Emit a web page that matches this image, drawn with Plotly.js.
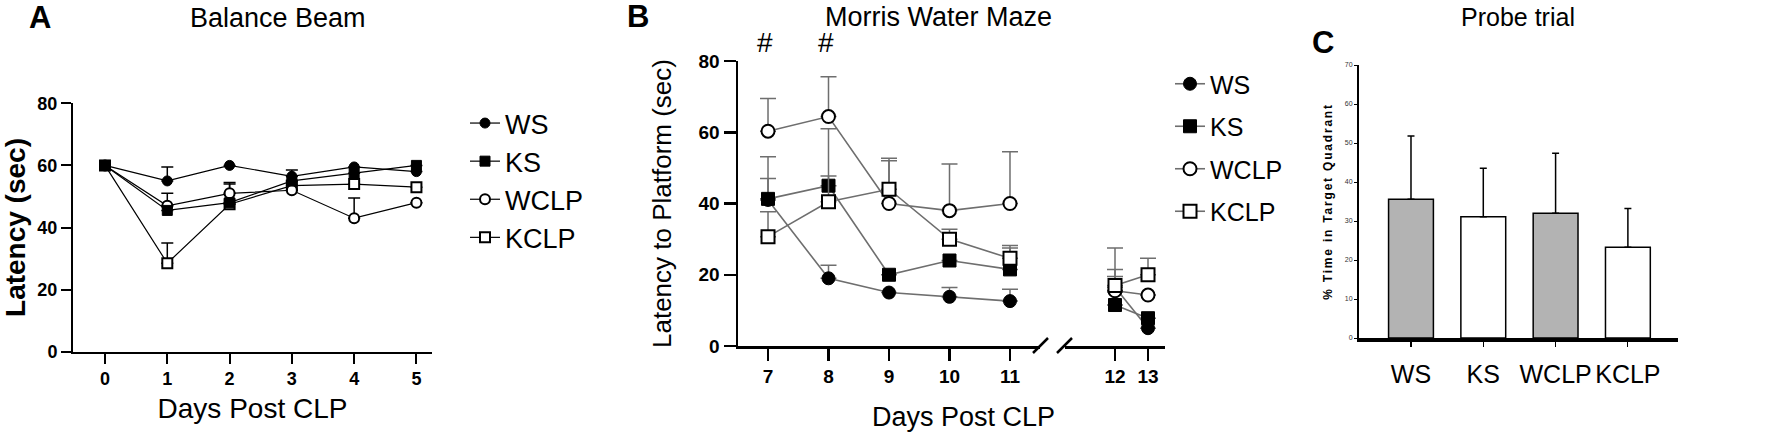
<!DOCTYPE html>
<html>
<head>
<meta charset="utf-8">
<script src="https://cdn.plot.ly/plotly-3.0.1.min.js"></script>
<style>
  html, body { margin: 0; padding: 0; background: #fff; }
  #chart { width: 1770px; height: 437px; }
  .y3title { letter-spacing: 1.8px; }
</style>
</head>
<body>
<div id="chart"></div>
<script>
// ---------- Panel A: Balance Beam ----------
const bbDays = [0, 1, 2, 3, 4, 5];
const bbWS = [60, 55, 60, 56.5, 59.5, 58];
const bbWSerr = [0, 4.5, 0, 2, 0, 0];
const bbKS = [60, 45.5, 48, 55, 57.5, 60];
const bbKSerr = [0, 0, 0, 0, 0, 0];
const bbWCLP = [60, 47, 51, 52, 43, 48];
const bbWCLPerr = [0, 4, 3.5, 0, 6.5, 0];
const bbKCLP = [60, 28.5, 47.5, 53.5, 54, 53];
const bbKCLPerr = [0, 6.5, 6.5, 0, 0, 0];

// ---------- Panel B: Morris Water Maze ----------
const mwDays1 = [7, 8, 9, 10, 11];
const mwDays2 = [12, 13];
const mwWS1 = [41, 19, 15, 13.8, 12.6];
const mwWS2 = [16.5, 5];
const mwWSerr1 = [6, 3.7, 0, 2.6, 3.3];
const mwWSerr2 = [3, 0];
const mwKS1 = [41.3, 45, 20, 24, 21.5];
const mwKS2 = [11.5, 7.8];
const mwKSerr1 = [11.8, 16, 0, 0, 6];
const mwKSerr2 = [0, 0];
const mwWCLP1 = [60.3, 64.4, 40, 38, 40];
const mwWCLP2 = [15.5, 14.3];
const mwWCLPerr1 = [9.2, 11.2, 12, 13.1, 14.5];
const mwWCLPerr2 = [12, 0];
const mwKCLP1 = [30.7, 40.5, 44, 30, 24.6];
const mwKCLP2 = [17, 20];
const mwKCLPerr1 = [7, 7.2, 8.7, 2.8, 3.6];
const mwKCLPerr2 = [4.5, 4.6];

// ---------- Panel C: Probe trial ----------
const probeGroups = ['WS', 'KS', 'WCLP', 'KCLP'];
const probeValues = [35.6, 31.1, 32, 23.3];
const probeErr = [16.2, 12.4, 15.4, 9.9];

const FONT = 'Liberation Sans, Arial, sans-serif';
const W = 1770, H = 437;
const px = v => v / W;
const py = v => (H - v) / H;
const zeros = a => a.map(() => 0);

const styles = {
  WS:   { symbol: 'circle', fill: 'black', rank: 1 },
  KS:   { symbol: 'square', fill: 'black', rank: 2 },
  WCLP: { symbol: 'circle', fill: 'white', rank: 3 },
  KCLP: { symbol: 'square', fill: 'white', rank: 4 }
};

function series(name, x, y, err, xa, ya, opts) {
  const st = styles[name];
  return {
    type: 'scatter', mode: 'lines+markers', name: name,
    x: x, y: y, xaxis: xa, yaxis: ya,
    legend: opts.legend, legendgroup: opts.group, showlegend: opts.showlegend,
    legendrank: st.rank,
    line: { color: opts.lineColor, width: opts.lineWidth },
    marker: { symbol: st.symbol, size: opts.size, color: st.fill,
              line: { color: 'black', width: st.fill === 'white' ? 2 : 1 } },
    error_y: { type: 'data', symmetric: false, array: err, arrayminus: zeros(err),
               width: opts.capW, thickness: 1.5, color: opts.lineColor },
    hoverinfo: 'x+y+name'
  };
}

const optA = { legend: 'legend', showlegend: true, lineColor: 'black', lineWidth: 1.2, size: 10, capW: 6 };
const optB = { legend: 'legend2', lineColor: '#6e6e6e', lineWidth: 1.6, size: 13, capW: 8 };

const traces = [
  series('KCLP', bbDays, bbKCLP, bbKCLPerr, 'x', 'y', Object.assign({ group: 'aKCLP' }, optA)),
  series('WCLP', bbDays, bbWCLP, bbWCLPerr, 'x', 'y', Object.assign({ group: 'aWCLP' }, optA)),
  series('WS', bbDays, bbWS, bbWSerr, 'x', 'y', Object.assign({ group: 'aWS' }, optA)),
  series('KS', bbDays, bbKS, bbKSerr, 'x', 'y', Object.assign({ group: 'aKS' }, optA)),

  series('WS', mwDays1, mwWS1, mwWSerr1, 'x2', 'y2', Object.assign({ group: 'bWS', showlegend: true }, optB)),
  series('KS', mwDays1, mwKS1, mwKSerr1, 'x2', 'y2', Object.assign({ group: 'bKS', showlegend: true }, optB)),
  series('WCLP', mwDays1, mwWCLP1, mwWCLPerr1, 'x2', 'y2', Object.assign({ group: 'bWCLP', showlegend: true }, optB)),
  series('KCLP', mwDays1, mwKCLP1, mwKCLPerr1, 'x2', 'y2', Object.assign({ group: 'bKCLP', showlegend: true }, optB)),
  series('WS', mwDays2, mwWS2, mwWSerr2, 'x3', 'y2', Object.assign({ group: 'bWS', showlegend: false }, optB)),
  series('KS', mwDays2, mwKS2, mwKSerr2, 'x3', 'y2', Object.assign({ group: 'bKS', showlegend: false }, optB)),
  series('WCLP', mwDays2, mwWCLP2, mwWCLPerr2, 'x3', 'y2', Object.assign({ group: 'bWCLP', showlegend: false }, optB)),
  series('KCLP', mwDays2, mwKCLP2, mwKCLPerr2, 'x3', 'y2', Object.assign({ group: 'bKCLP', showlegend: false }, optB)),

  {
    type: 'bar', x: probeGroups, y: probeValues, xaxis: 'x4', yaxis: 'y3',
    width: 0.62, showlegend: false,
    marker: { color: ['#b3b3b3', '#ffffff', '#b3b3b3', '#ffffff'], line: { color: 'black', width: 1.5 } },
    error_y: { type: 'data', symmetric: false, array: probeErr, arrayminus: zeros(probeErr),
               width: 3.5, thickness: 1.5, color: 'black' }
  }
];

const axisBase = {
  showline: true, linecolor: 'black', showgrid: false, zeroline: false,
  ticks: 'outside', tickcolor: 'black', fixedrange: true
};
const boldTick = size => ({ family: FONT, size: size, color: 'black', weight: 'bold' });

const layout = {
  width: W, height: H,
  margin: { l: 0, r: 0, t: 0, b: 0 },
  paper_bgcolor: 'white', plot_bgcolor: 'white',
  font: { family: FONT, color: 'black' },
  xaxis: Object.assign({}, axisBase, {
    domain: [px(73), px(432)], range: [-0.514, 5.25], anchor: 'y',
    tickvals: bbDays, linewidth: 2, ticklen: 10, tickwidth: 2, tickfont: boldTick(18),
    title: { text: 'Days Post CLP', font: { family: FONT, size: 28 }, standoff: 10 }
  }),
  yaxis: Object.assign({}, axisBase, {
    domain: [py(351.7), py(103.3)], range: [0, 80], anchor: 'x',
    tick0: 0, dtick: 20, linewidth: 2, ticklen: 10, tickwidth: 2, tickfont: boldTick(18),
    title: { text: 'Latency (sec)', font: { family: FONT, size: 28, weight: 'bold' }, standoff: 7 }
  }),
  xaxis2: Object.assign({}, axisBase, {
    domain: [px(738), px(1040)], range: [6.504, 11.496], anchor: 'y2',
    tickvals: mwDays1, linewidth: 2.5, ticklen: 12, tickwidth: 2.5, tickfont: boldTick(19)
  }),
  xaxis3: Object.assign({}, axisBase, {
    domain: [px(1065), px(1165)], range: [10.485, 13.515], anchor: 'y2',
    tickvals: mwDays2, linewidth: 2.5, ticklen: 12, tickwidth: 2.5, tickfont: boldTick(19)
  }),
  yaxis2: Object.assign({}, axisBase, {
    domain: [py(346), py(61)], range: [0, 80], anchor: 'x2',
    tick0: 0, dtick: 20, linewidth: 2.5, ticklen: 12, tickwidth: 2.5, tickfont: boldTick(19),
    title: { text: 'Latency to Platform (sec)', font: { family: FONT, size: 26 }, standoff: 20 }
  }),
  xaxis4: Object.assign({}, axisBase, {
    domain: [px(1359), px(1678)], range: [-0.719, 3.693], anchor: 'y3', type: 'category',
    linewidth: 3.5, ticklen: 5, tickwidth: 1.2, ticklabelstandoff: 6,
    tickfont: { family: FONT, size: 25, color: 'black' }
  }),
  yaxis3: Object.assign({}, axisBase, {
    domain: [py(338), py(65)], range: [0, 70], anchor: 'x4',
    tick0: 0, dtick: 10, linewidth: 2, ticklen: 3, tickwidth: 1,
    tickfont: { family: FONT, size: 7, color: '#333' },
    title: { text: '% Time in Target Quadrant', font: { family: FONT, size: 12, weight: 'bold' }, standoff: 10 }
  }),
  legend: {
    x: px(465), y: py(99), xanchor: 'left', yanchor: 'top',
    font: { family: FONT, size: 27, color: 'black' }, itemwidth: 30,
    bgcolor: 'rgba(0,0,0,0)', tracegroupgap: 0
  },
  legend2: {
    x: px(1170), y: py(61), xanchor: 'left', yanchor: 'top',
    font: { family: FONT, size: 25, color: 'black' }, itemwidth: 30,
    bgcolor: 'rgba(0,0,0,0)', tracegroupgap: 7
  },
  shapes: [
    { type: 'line', xref: 'paper', yref: 'paper', x0: px(1033), y0: py(353), x1: px(1048), y1: py(338),
      line: { color: 'black', width: 2.5 } },
    { type: 'line', xref: 'paper', yref: 'paper', x0: px(1057), y0: py(353), x1: px(1072), y1: py(338),
      line: { color: 'black', width: 2.5 } }
  ],
  annotations: [
    { text: 'A', x: px(40), y: py(18), font: { family: FONT, size: 31, weight: 'bold' } },
    { text: 'Balance Beam', x: px(278), y: py(18), font: { family: FONT, size: 27 } },
    { text: 'B', x: px(638), y: py(17), font: { family: FONT, size: 31, weight: 'bold' } },
    { text: 'Morris Water Maze', x: px(939), y: py(17), font: { family: FONT, size: 27 } },
    { text: '#', x: px(765), y: py(42), font: { family: FONT, size: 28 } },
    { text: '#', x: px(826), y: py(42), font: { family: FONT, size: 28 } },
    { text: 'Days Post CLP', x: px(963), y: py(417), font: { family: FONT, size: 27 } },
    { text: 'Probe trial', x: px(1518), y: py(17), font: { family: FONT, size: 25 } },
    { text: 'C', x: px(1323), y: py(42), font: { family: FONT, size: 31, weight: 'bold' } }
  ].map(a => Object.assign({ xref: 'paper', yref: 'paper', showarrow: false,
                              xanchor: 'center', yanchor: 'middle' }, a))
};

Plotly.newPlot('chart', traces, layout, { displayModeBar: false, staticPlot: true });
</script>
</body>
</html>
